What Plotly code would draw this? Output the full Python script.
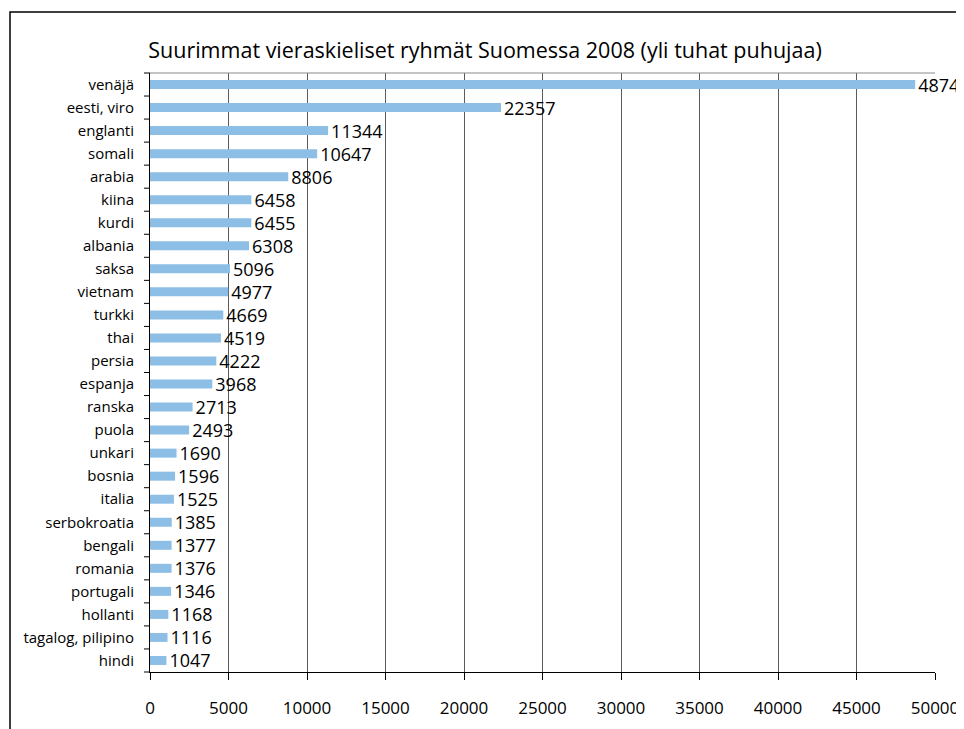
import plotly.graph_objects as go

languages = ["venäjä", "eesti, viro", "englanti", "somali", "arabia", "kiina", "kurdi",
             "albania", "saksa", "vietnam", "turkki", "thai", "persia", "espanja",
             "ranska", "puola", "unkari", "bosnia", "italia", "serbokroatia", "bengali",
             "romania", "portugali", "hollanti", "tagalog, pilipino", "hindi"]
speakers = [48740, 22357, 11344, 10647, 8806, 6458, 6455, 6308, 5096, 4977, 4669,
            4519, 4222, 3968, 2713, 2493, 1690, 1596, 1525, 1385, 1377, 1376, 1346,
            1168, 1116, 1047]
x_ticks = [0, 5000, 10000, 15000, 20000, 25000, 30000, 35000, 40000, 45000, 50000]
title_text = "Suurimmat vieraskieliset ryhmät Suomessa 2008 (yli tuhat puhujaa)"

FONT = "'Open Sans', Lato, sans-serif"

OFF = 8  # page body margin
W, H = 964 - OFF, 729 - OFF
# plot area in screen pixels
SL, SR, ST, SB = 150, 935, 73, 672
L, T = SL - OFF, ST - OFF
R, B = W - (SR - OFF), H - (SB - OFF)
pw, ph = SR - SL, SB - ST


def px(x):
    return (x - SL) / pw


def py(y):
    return (SB - y) / ph


fig = go.Figure(go.Bar(
    x=speakers, y=languages, orientation="h",
    marker=dict(color="#8DBEE6", line=dict(width=0)),
    text=[str(v) for v in speakers], textposition="outside",
    textfont=dict(family=FONT, size=18, color="black"),
    cliponaxis=False, constraintext="none",
))

fig.update_layout(
    width=W, height=H, autosize=False,
    margin=dict(l=L, r=R, t=T, b=B, pad=0, autoexpand=False),
    paper_bgcolor="white", plot_bgcolor="white",
    bargap=0.61,
    showlegend=False,
    title=dict(text=title_text, x=(485 - OFF) / W, xanchor="center",
               y=1 - (50 - OFF) / H, yanchor="middle",
               font=dict(family=FONT, size=21.5, color="black")),
    xaxis=dict(range=[0, 50000], tickvals=x_ticks, ticktext=[str(t) for t in x_ticks],
               automargin=False,
               showgrid=True, gridcolor="#5a5a5a", gridwidth=1,
               showline=True, linecolor="black", linewidth=1,
               ticks="outside", ticklen=7, tickcolor="black",
               ticklabelstandoff=14,
               tickfont=dict(family=FONT, size=17, color="black"),
               zeroline=False, fixedrange=True),
    yaxis=dict(autorange="reversed", showgrid=False, automargin=False,
               showline=True, linecolor="black", linewidth=1,
               ticks="", tickfont=dict(family=FONT, size=15, color="black"),
               ticklabelstandoff=12, zeroline=False),
    shapes=[
        # outer chart frame
        dict(type="rect", xref="paper", yref="paper",
             x0=px(10), x1=px(1010), y0=py(780), y1=py(12),
             line=dict(color="black", width=1.5), fillcolor="rgba(0,0,0,0)", layer="below"),
        # plot area top border
        dict(type="line", xref="paper", yref="paper", x0=0, x1=1, y0=1, y1=1,
             line=dict(color="#8a8a8a", width=1)),
    ],
)

# category tick marks between categories (left of the y axis)
n = len(languages)
for i in range(n + 1):
    yv = i / n
    fig.add_shape(type="line", xref="paper", yref="paper",
                  x0=px(SL - 6), x1=0, y0=yv, y1=yv,
                  line=dict(color="black", width=1))

fig.write_html("out.html")
